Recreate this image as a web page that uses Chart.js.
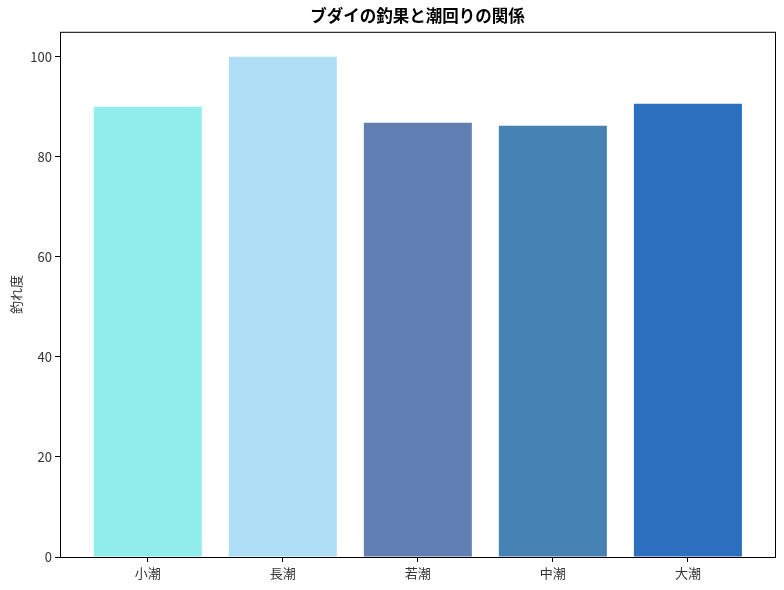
<!DOCTYPE html>
<html>
<head>
<meta charset="utf-8">
<script src="https://cdn.jsdelivr.net/npm/chart.js@4"></script>
<style>
  html, body { margin: 0; padding: 0; background: #fff; }
  canvas { display: block; }
</style>
</head>
<body>
<canvas id="tideChart" width="784" height="590"></canvas>
<script>
// data
const tides = ["小潮", "長潮", "若潮", "中潮", "大潮"];
const catchScore = [90, 100, 86.8, 86.2, 90.6];
const barColors = ["#90EDEC", "#AEDEF6", "#617FB3", "#4683B4", "#2C6FBF"];
const yTicks = [0, 20, 40, 60, 80, 100];

const jpFont = "'Noto Sans CJK JP', 'Noto Sans', sans-serif";

// black frame round the plot area, and title centred over the plot (matplotlib style)
const frame = {
    id: "frame",
    beforeDraw(chart) {
        const a = chart.chartArea;
        if (chart.titleBlock) {
            chart.titleBlock.left = a.left;
            chart.titleBlock.right = a.right;
        }
    },
    afterDatasetsDraw(chart) {
        const { ctx, chartArea: a } = chart;
        ctx.save();
        ctx.strokeStyle = "#000";
        ctx.lineWidth = 1;
        ctx.strokeRect(a.left + 0.5, a.top + 0.5, a.right - a.left, a.bottom - a.top);
        ctx.restore();
    }
};

const ctx = document.getElementById("tideChart").getContext("2d");
new Chart(ctx, {
    type: "bar",
    data: {
        datasets: [{
            data: tides.map((t, i) => ({ x: i, y: catchScore[i] })),
            backgroundColor: barColors,
            borderWidth: 0,
            categoryPercentage: 1,
            barPercentage: 0.8
        }]
    },
    options: {
        responsive: false,
        animation: false,
        devicePixelRatio: 1,
        layout: { padding: { left: 0, right: 9, top: 0, bottom: 0 } },
        plugins: {
            legend: { display: false },
            tooltip: { enabled: false },
            title: {
                display: true,
                text: "ブダイの釣果と潮回りの関係",
                color: "#000",
                font: { family: jpFont, size: 16.5, weight: "bold" },
                padding: { top: 6, bottom: 6 }
            }
        },
        scales: {
            x: {
                type: "linear",
                min: -0.65,
                max: 4.645,
                offset: false,
                border: { display: false },
                grid: { drawOnChartArea: false, offset: false, tickLength: 5, color: "#000" },
                afterBuildTicks: axis => { axis.ticks = tides.map((t, i) => ({ value: i })); },
                afterFit: scale => { scale.height = 33; },
                ticks: {
                    color: "#333",
                    padding: 3,
                    maxRotation: 0,
                    font: { family: jpFont, size: 13 },
                    callback: v => tides[v]
                }
            },
            y: {
                min: 0,
                max: 105,
                border: { display: false },
                grid: { drawOnChartArea: false, tickLength: 5, color: "#000" },
                afterBuildTicks: axis => { axis.ticks = yTicks.map(v => ({ value: v })); },
                afterFit: scale => { scale.width = 60; },
                ticks: {
                    color: "#333",
                    padding: 3,
                    font: { family: jpFont, size: 13 }
                },
                title: {
                    display: true,
                    text: "釣れ度",
                    color: "#333",
                    font: { family: jpFont, size: 13 },
                    padding: { top: 8, bottom: 0 }
                }
            }
        }
    },
    plugins: [frame]
});
</script>
</body>
</html>
